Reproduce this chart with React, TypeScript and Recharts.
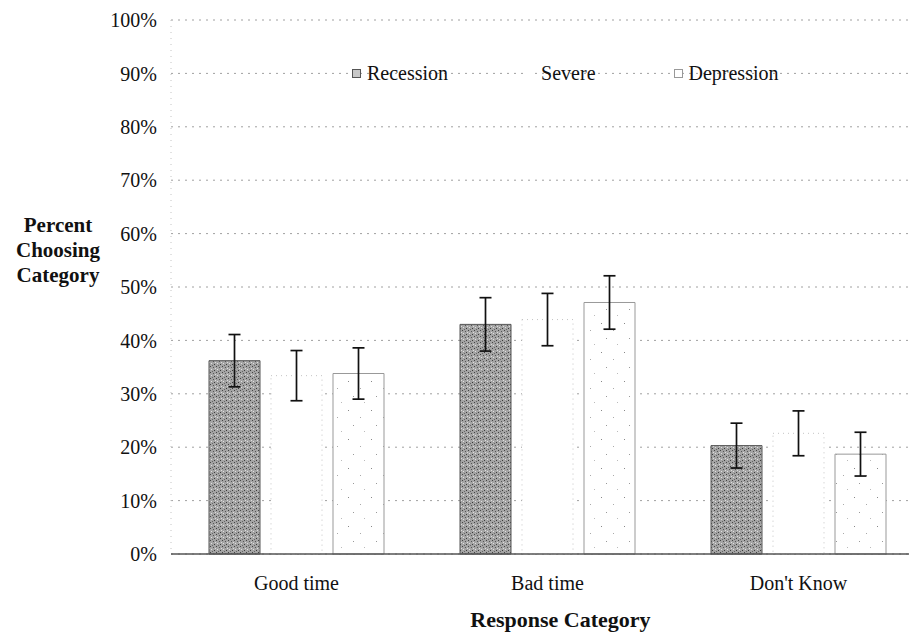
import React from 'react';
import { BarChart, Bar, XAxis, YAxis, CartesianGrid, ErrorBar } from 'recharts';

const categories = ['Good time', 'Bad time', "Don't Know"];
const recession = [36.2, 43.0, 20.3];
const recessionErr = [4.9, 5.0, 4.2];
const severe = [33.4, 43.9, 22.6];
const severeErr = [4.7, 4.9, 4.2];
const depression = [33.8, 47.1, 18.7];
const depressionErr = [4.8, 5.0, 4.1];
const yTicks = [0, 10, 20, 30, 40, 50, 60, 70, 80, 90, 100];

const data = categories.map((name, i) => ({
  name,
  recession: recession[i],
  recessionErr: recessionErr[i],
  severe: severe[i],
  severeErr: severeErr[i],
  depression: depression[i],
  depressionErr: depressionErr[i],
}));

const serif = '"Liberation Serif", "Times New Roman", serif';

const legendItems = [
  { label: 'Recession', box: { background: '#c8c8c8', border: '1px solid #555' } },
  { label: 'Severe', box: { background: '#fff', border: '1px solid #fff' } },
  { label: 'Depression', box: { background: '#fff', border: '1px solid #999' } },
];

const App: React.FC = () => {
  return (
    <div style={{ position: 'absolute', left: 0, top: 0, width: 909, height: 637, overflow: 'hidden', background: '#fff', fontFamily: serif }}>
      <BarChart
        width={924}
        height={637}
        data={data}
        margin={{ top: 20, right: 0, bottom: 0, left: 0 }}
        barGap={11}
        barCategoryGap={38}
      >
        <defs>
          <pattern id="stipDark" width="6" height="6" patternUnits="userSpaceOnUse">
            <rect width="6" height="6" fill="#a4a4a4" />
            <rect x="0" y="0" width="1" height="1" fill="#444" />
            <rect x="3" y="1" width="1" height="1" fill="#555" />
            <rect x="1" y="3" width="1" height="1" fill="#e0e0e0" />
            <rect x="4" y="4" width="1" height="1" fill="#3a3a3a" />
            <rect x="2" y="5" width="1" height="1" fill="#666" />
            <rect x="5" y="2" width="1" height="1" fill="#ddd" />
          </pattern>
          <pattern id="stipLight" width="23" height="29" patternUnits="userSpaceOnUse">
            <rect width="23" height="29" fill="#fff" />
            <rect x="3" y="4" width="1" height="1" fill="#888" />
            <rect x="15" y="11" width="1" height="1" fill="#aaa" />
            <rect x="8" y="19" width="1" height="1" fill="#999" />
            <rect x="19" y="25" width="1" height="1" fill="#bbb" />
          </pattern>
        </defs>
        <CartesianGrid vertical={false} stroke="#a0a0a0" strokeDasharray="2 5" />
        <XAxis
          dataKey="name"
          height={83}
          tickLine={false}
          tickSize={0}
          tickMargin={22}
          axisLine={{ stroke: '#555', strokeWidth: 1.5 }}
          tick={{ fill: '#111', fontSize: 20, fontFamily: serif }}
        />
        <YAxis
          width={171}
          domain={[0, 100]}
          ticks={yTicks}
          interval={0}
          tickFormatter={(v: number) => `${v}%`}
          tickLine={false}
          tickSize={0}
          tickMargin={14}
          axisLine={{ stroke: '#c4c4c4', strokeDasharray: '1 5' }}
          tick={{ fill: '#111', fontSize: 20, fontFamily: serif }}
        />
        <Bar dataKey="recession" fill="url(#stipDark)" stroke="#555" strokeWidth={1} isAnimationActive={false}>
          <ErrorBar dataKey="recessionErr" width={6} stroke="#111" strokeWidth={1.7} />
        </Bar>
        <Bar dataKey="severe" fill="#fff" stroke="#c4c4c4" strokeDasharray="1 4" isAnimationActive={false}>
          <ErrorBar dataKey="severeErr" width={6} stroke="#111" strokeWidth={1.7} />
        </Bar>
        <Bar dataKey="depression" fill="url(#stipLight)" stroke="#999" strokeWidth={1} isAnimationActive={false}>
          <ErrorBar dataKey="depressionErr" width={6} stroke="#111" strokeWidth={1.7} />
        </Bar>
      </BarChart>

      {/* legend row */}
      <div style={{ position: 'absolute', left: 352, top: 62, display: 'flex', alignItems: 'center', gap: 78, fontSize: 20, color: '#111' }}>
        {legendItems.map((item) => (
          <div key={item.label} style={{ display: 'flex', alignItems: 'center' }}>
            <span style={{ display: 'inline-block', width: 7, height: 7, marginRight: 6, ...item.box }} />
            <span>{item.label}</span>
          </div>
        ))}
      </div>

      {/* y axis title */}
      <div style={{ position: 'absolute', left: 0, top: 213, width: 116, textAlign: 'center', fontWeight: 'bold', fontSize: 21, lineHeight: '25px', color: '#111' }}>
        Percent
        <br />
        Choosing
        <br />
        Category
      </div>

      {/* x axis title */}
      <div style={{ position: 'absolute', left: 184, top: 607, width: 753, textAlign: 'center', fontWeight: 'bold', fontSize: 22, color: '#111' }}>
        Response Category
      </div>
    </div>
  );
};

export default App;
